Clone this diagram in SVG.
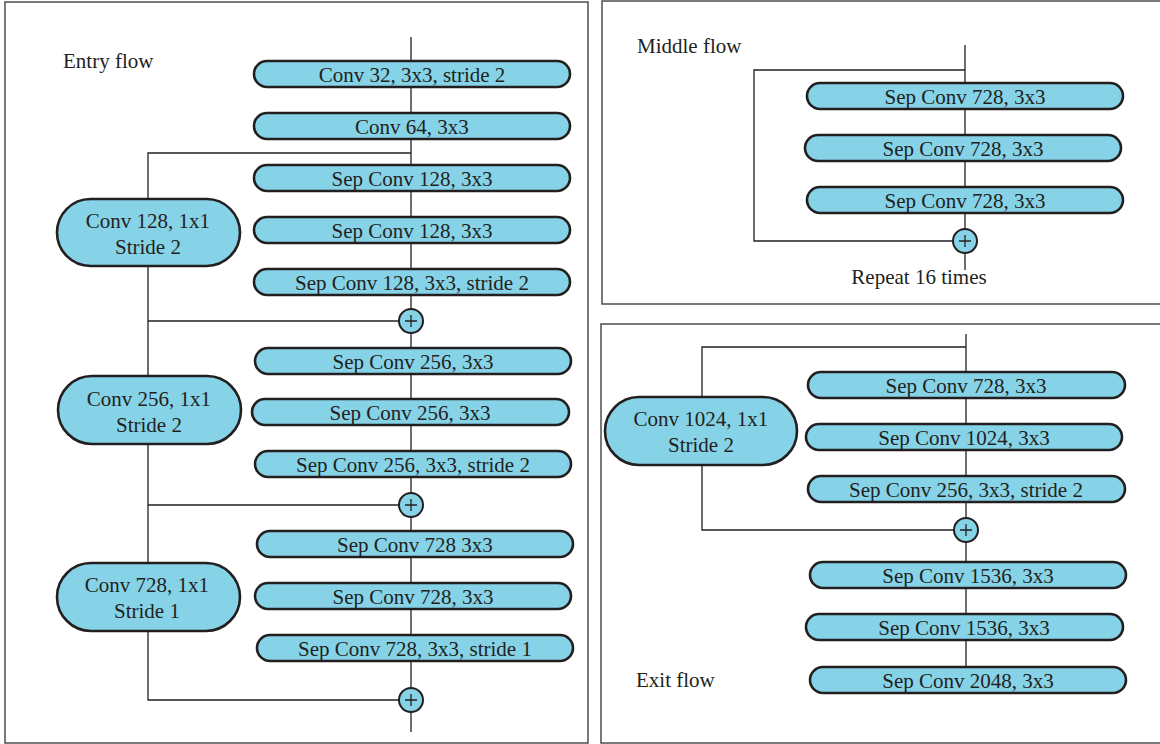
<svg xmlns="http://www.w3.org/2000/svg" width="1160" height="744" viewBox="0 0 1160 744">
<style>
.panel{fill:#fff;stroke:#4d4d4d;stroke-width:1.5}
.box{fill:#86d3e8;stroke:#231f20;stroke-width:2.6}
.add{fill:#86d3e8;stroke:#231f20;stroke-width:2}
.plus{stroke:#231f20;stroke-width:1.3;fill:none}
.wire{stroke:#231f20;stroke-width:1.3;fill:none}
text{font-family:"Liberation Serif","Times New Roman",serif;font-size:21px;fill:#231f20}
.c{text-anchor:middle}
</style>
<rect width="1160" height="744" fill="#fff"/>
<g id="panels">
<rect class="panel" x="5" y="2" width="583" height="741"/>
<rect class="panel" x="602" y="1" width="570" height="303"/>
<rect class="panel" x="601" y="324" width="570" height="419"/>
</g>
<text x="63" y="68">Entry flow</text>
<text x="637" y="53">Middle flow</text>
<text x="636" y="687">Exit flow</text>
<text x="919" y="284" class="c">Repeat 16 times</text>
<g id="connectors">
<path class="wire" d="M411 37V732"/>
<path class="wire" d="M411 153H148V700H411"/>
<path class="wire" d="M148 321H411"/>
<path class="wire" d="M148 505H411"/>
<path class="wire" d="M965 45V270"/>
<path class="wire" d="M965 70H754V241H965"/>
<path class="wire" d="M966 334V667"/>
<path class="wire" d="M966 347H702V530H966"/>
</g>
<g id="entry-conv32"><rect class="box" x="254" y="61" width="316" height="26" rx="13"/><text x="412" y="82" class="c">Conv 32, 3x3, stride 2</text></g>
<g id="entry-conv64"><rect class="box" x="254" y="113" width="316" height="26" rx="13"/><text x="412" y="134" class="c">Conv 64, 3x3</text></g>
<g id="entry-sep128a"><rect class="box" x="254" y="165" width="316" height="26" rx="13"/><text x="412" y="186" class="c">Sep Conv 128, 3x3</text></g>
<g id="entry-sep128b"><rect class="box" x="254" y="217" width="316" height="26" rx="13"/><text x="412" y="238" class="c">Sep Conv 128, 3x3</text></g>
<g id="entry-sep128c"><rect class="box" x="254" y="269" width="316" height="26" rx="13"/><text x="412" y="290" class="c">Sep Conv 128, 3x3, stride 2</text></g>
<g id="entry-res128"><rect class="box" x="57" y="199" width="183" height="67" rx="33.5"/><text x="148" y="228" class="c">Conv 128, 1x1</text><text x="148" y="254" class="c">Stride 2</text></g>
<g id="entry-add1"><circle class="add" cx="411" cy="321" r="12"/><path class="plus" d="M405 321h12M411 315v12"/></g>
<g id="entry-sep256a"><rect class="box" x="255" y="348" width="316" height="26" rx="13"/><text x="413" y="369" class="c">Sep Conv 256, 3x3</text></g>
<g id="entry-sep256b"><rect class="box" x="252" y="399" width="317" height="26" rx="13"/><text x="410" y="420" class="c">Sep Conv 256, 3x3</text></g>
<g id="entry-sep256c"><rect class="box" x="255" y="451" width="316" height="26" rx="13"/><text x="413" y="472" class="c">Sep Conv 256, 3x3, stride 2</text></g>
<g id="entry-res256"><rect class="box" x="58" y="376" width="183" height="68" rx="34"/><text x="149" y="406" class="c">Conv 256, 1x1</text><text x="149" y="432" class="c">Stride 2</text></g>
<g id="entry-add2"><circle class="add" cx="411" cy="505" r="12"/><path class="plus" d="M405 505h12M411 499v12"/></g>
<g id="entry-sep728a"><rect class="box" x="257" y="531" width="316" height="26" rx="13"/><text x="415" y="552" class="c">Sep Conv 728 3x3</text></g>
<g id="entry-sep728b"><rect class="box" x="255" y="583" width="316" height="26" rx="13"/><text x="413" y="604" class="c">Sep Conv 728, 3x3</text></g>
<g id="entry-sep728c"><rect class="box" x="257" y="635" width="316" height="26" rx="13"/><text x="415" y="656" class="c">Sep Conv 728, 3x3, stride 1</text></g>
<g id="entry-res728"><rect class="box" x="57" y="563" width="183" height="68" rx="34"/><text x="147" y="592" class="c">Conv 728, 1x1</text><text x="147" y="618" class="c">Stride 1</text></g>
<g id="entry-add3"><circle class="add" cx="411" cy="700" r="12"/><path class="plus" d="M405 700h12M411 694v12"/></g>
<g id="mid-sep1"><rect class="box" x="807" y="83" width="316" height="26" rx="13"/><text x="965" y="104" class="c">Sep Conv 728, 3x3</text></g>
<g id="mid-sep2"><rect class="box" x="805" y="135" width="316" height="26" rx="13"/><text x="963" y="156" class="c">Sep Conv 728, 3x3</text></g>
<g id="mid-sep3"><rect class="box" x="807" y="187" width="316" height="26" rx="13"/><text x="965" y="208" class="c">Sep Conv 728, 3x3</text></g>
<g id="mid-add"><circle class="add" cx="965" cy="241" r="12"/><path class="plus" d="M959 241h12M965 235v12"/></g>
<g id="exit-sep728"><rect class="box" x="808" y="372" width="317" height="26" rx="13"/><text x="966" y="393" class="c">Sep Conv 728, 3x3</text></g>
<g id="exit-sep1024"><rect class="box" x="806" y="424" width="316" height="26" rx="13"/><text x="964" y="445" class="c">Sep Conv 1024, 3x3</text></g>
<g id="exit-sep256"><rect class="box" x="808" y="476" width="317" height="26" rx="13"/><text x="966" y="497" class="c">Sep Conv 256, 3x3, stride 2</text></g>
<g id="exit-res1024"><rect class="box" x="605" y="397" width="192" height="68" rx="34"/><text x="701" y="426" class="c">Conv 1024, 1x1</text><text x="701" y="452" class="c">Stride 2</text></g>
<g id="exit-add"><circle class="add" cx="966" cy="530" r="12"/><path class="plus" d="M960 530h12M966 524v12"/></g>
<g id="exit-sep1536a"><rect class="box" x="810" y="562" width="316" height="26" rx="13"/><text x="968" y="583" class="c">Sep Conv 1536, 3x3</text></g>
<g id="exit-sep1536b"><rect class="box" x="806" y="614" width="317" height="26" rx="13"/><text x="964" y="635" class="c">Sep Conv 1536, 3x3</text></g>
<g id="exit-sep2048"><rect class="box" x="810" y="667" width="316" height="26" rx="13"/><text x="968" y="688" class="c">Sep Conv 2048, 3x3</text></g>
</svg>
